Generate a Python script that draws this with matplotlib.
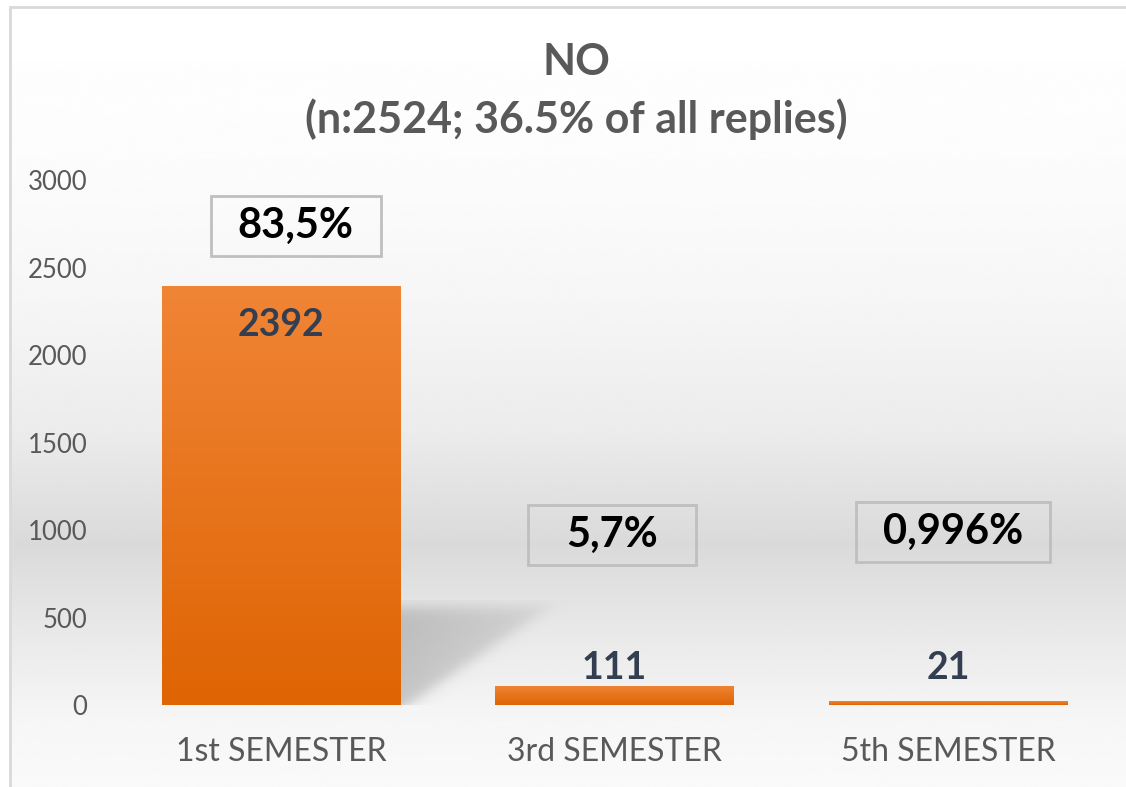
import numpy as np
import matplotlib
matplotlib.use('Agg')
import matplotlib.pyplot as plt
from matplotlib.patches import Rectangle
from matplotlib.colors import to_rgb

plt.rcParams['font.family'] = ['Lato', 'DejaVu Sans']

# Daten
categories = ['1st SEMESTER', '3rd SEMESTER', '5th SEMESTER']
counts = [2392, 111, 21]
pct_labels = ['83,5%', '5,7%', '0,996%']
title_text = 'NO\n(n:2524; 36.5% of all replies)'
y_ticks = [0, 500, 1000, 1500, 2000, 2500, 3000]

# label placement (data units), as in the original layout
pct_pos_x = [0.045, -0.008, 0.015]
pct_pos_y = [2737, 971, 989]
val_pos_y = [2171, 211, 211]

W, H = 1126, 787
fig = plt.figure(figsize=(W / 100, H / 100), dpi=100)
fig.patch.set_facecolor('white')

# background gradient inside the chart frame
bg = fig.add_axes([10 / W, 0, 1 - 10 / W, 1 - 7 / H], zorder=0)
stops_px = [7, 150, 300, 430, 545, 620, 720, 787]
stops_val = [1.0, 0.99, 0.965, 0.925, 0.855, 0.905, 0.965, 0.98]
rows = np.linspace(7, 787, 400)
shade = np.interp(rows, stops_px, stops_val)
bg.imshow(np.repeat(shade[:, None], 2, axis=1), cmap='gray', vmin=0, vmax=1,
          aspect='auto', extent=[0, 1, 0, 1], interpolation='bicubic')
bg.set_axis_off()
fig.add_artist(Rectangle((10 / W, -0.05), 1.2, 1 - 7 / H + 0.05,
                         transform=fig.transFigure, fill=False,
                         edgecolor='#d9d9d9', linewidth=2, zorder=1))

ax = fig.add_axes([114 / W, 1 - 705 / H, (1115 - 114) / W, (705 - 180) / H], zorder=2)
ax.patch.set_alpha(0)
x = np.arange(len(categories))
bar_w = 0.714
bars = ax.bar(x, counts, width=bar_w, color='none', edgecolor='none', zorder=3)

# orange gradient fill
top_c = np.array(to_rgb('#f08536'))
bot_c = np.array(to_rgb('#df6403'))
t = np.linspace(0, 1, 256)[:, None]
grad = (top_c * (1 - t) + bot_c * t)[:, None, :]
for b in bars:
    x0, y0 = b.get_x(), b.get_y()
    im = ax.imshow(grad, extent=[x0, x0 + b.get_width(), y0, y0 + b.get_height()],
                   aspect='auto', zorder=3, interpolation='bilinear')
    im.set_clip_path(b)

# soft perspective shadow behind first bar
b0 = bars[0]
sx0 = b0.get_x() + b0.get_width()
sx1 = sx0 + 0.5
sy1 = 0.25 * counts[0]
uu, vv = np.meshgrid(np.linspace(0, 1, 300), np.linspace(0, 1, 200))
diag = 0.05 + vv * 0.9
sig = lambda z: 1 / (1 + np.exp(-z))
mask = sig((diag - uu) / 0.04) * sig((0.93 - vv) / 0.04)
alpha = 0.36 * mask * (1 - 0.55 * uu)
shadow = np.zeros((200, 300, 4))
shadow[..., :3] = 0.45
shadow[..., 3] = alpha
ax.imshow(shadow, extent=[sx0, sx1, 0, sy1], origin='lower', aspect='auto',
          zorder=2.5, interpolation='bilinear')

ax.set_xlim(-0.5, len(categories) - 0.5)
ax.set_ylim(0, 3000)
ax.set_yticks(y_ticks)
ax.set_yticklabels([str(v) for v in y_ticks], fontsize=18.5, color='#595959')
ax.set_xticks(x)
ax.set_xticklabels(categories, fontsize=23, color='#595959')
ax.tick_params(axis='y', length=0, pad=19)
ax.tick_params(axis='x', length=0, pad=23)
for s in ax.spines.values():
    s.set_visible(False)

# Datenbeschriftungen
for i, v in enumerate(counts):
    ax.text(x[i], val_pos_y[i], str(v), ha='center', va='center', fontsize=27,
            fontweight='bold', color='#333f50', zorder=5)

pct_texts = []
for i, p in enumerate(pct_labels):
    pct_texts.append(ax.text(x[i] + pct_pos_x[i], pct_pos_y[i], p, ha='center', va='center',
                             fontsize=30, fontweight='bold', color='black', zorder=5))

# boxes around percentage labels: text width + margin, fixed height
fig.canvas.draw()
renderer = fig.canvas.get_renderer()
inv = ax.transData.inverted()
for tx in pct_texts:
    ext = tx.get_window_extent(renderer)
    cx = (ext.x0 + ext.x1) / 2
    _, cy = ax.transData.transform(tx.get_position())
    half_w = max(ext.width / 2 + 27, 84)
    (bx0, by0) = inv.transform((cx - half_w, cy - 30))
    (bx1, by1) = inv.transform((cx + half_w, cy + 30))
    ax.add_patch(Rectangle((bx0, by0), bx1 - bx0, by1 - by0, fill=False,
                           edgecolor='#bfbfbf', linewidth=2, zorder=4))

fig.text(576 / W, 1 - 91 / H, title_text, ha='center', va='center', fontsize=31,
         fontweight='bold', color='#595959', linespacing=1.45, zorder=5)

fig.savefig('out.png', dpi=100)
